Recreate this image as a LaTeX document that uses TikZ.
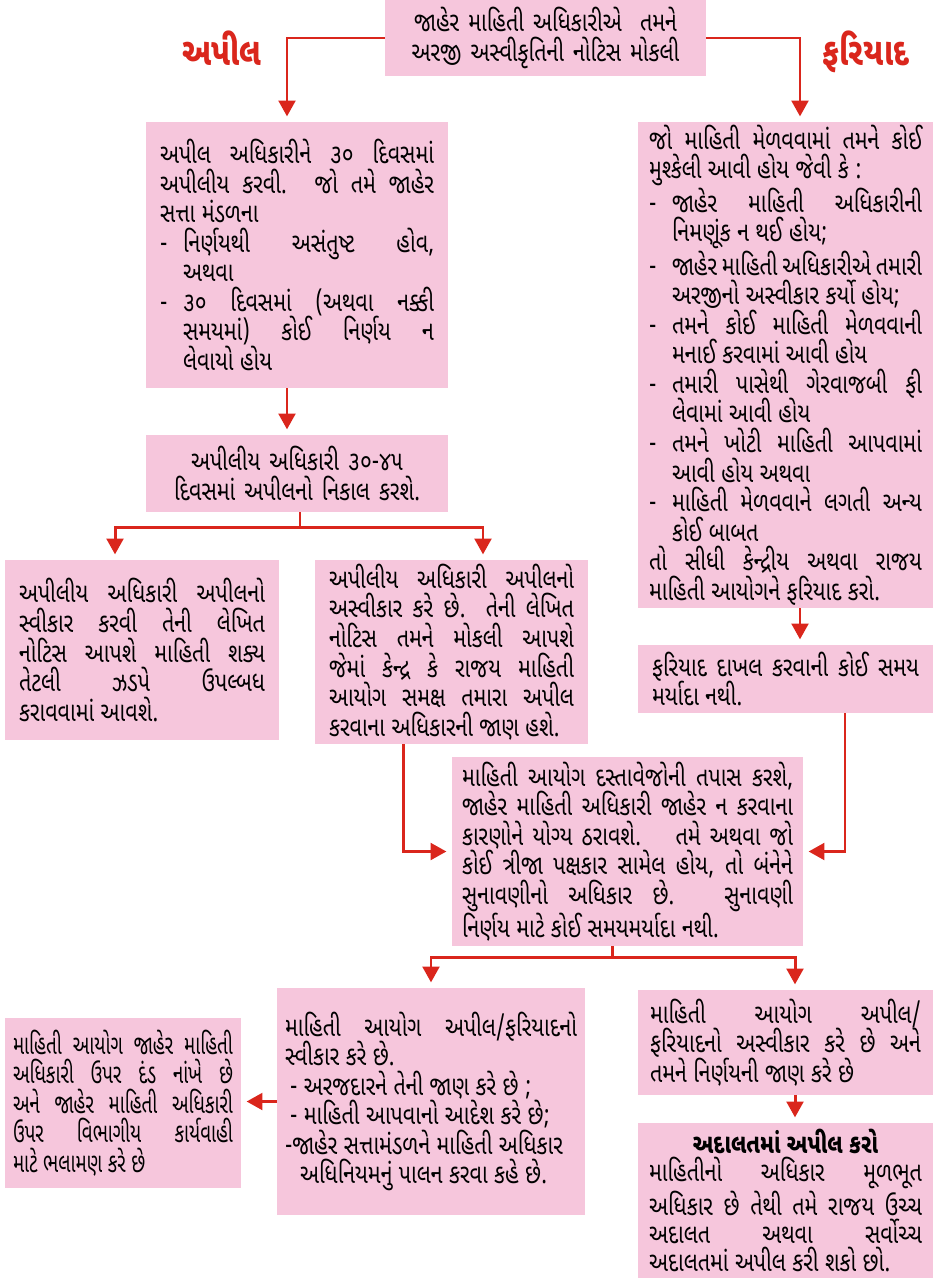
\documentclass[tikz,border=0pt]{standalone}
\usepackage{fontspec}
\setmainfont{Noto Sans Gujarati UI}[Script=Gujarati, FakeStretch=0.79]
\newfontfamily\gujnarrow{Noto Sans Gujarati UI}[Script=Gujarati, FakeStretch=0.69]
\usetikzlibrary{arrows.meta,positioning,calc}
\definecolor{boxpink}{RGB}{246,198,220}
\definecolor{arrred}{RGB}{218,38,28}
\setlength{\parindent}{0pt}
\setlength{\lineskiplimit}{-20pt}
\newcommand{\gdash}{\par\hangindent=0.46cm\hangafter=1\noindent\makebox[0.46cm][l]{-}}

\begin{document}
\begin{tikzpicture}[x=0.02cm, y=-0.02cm,
    box/.style={fill=boxpink, inner xsep=0.28cm, inner ysep=0pt, align=justify,
        font=\fontsize{15.5}{16.8}\selectfont},
    link/.style={arrred, line width=1.7pt},
    arr/.style={link, -{Triangle[width=9.5pt,length=9pt]}, shorten >=3pt},
    lbl/.style={text=arrred, font=\fontsize{22}{24}\selectfont\bfseries}]
    \useasboundingbox (0,0) rectangle (933,1278);

    % Top
    \node[box, align=center, minimum width=6.42cm, minimum height=1.52cm, text width=5.86cm] (T) at (545.5,38)
        {જાહેર માહિતી અધિકારીએ~ તમને\\ અરજી અસ્વીકૃતિની નોટિસ મોકલી};
    \node[lbl] (apil) at (222,48) {અપીલ};
    \node[lbl] (fariyad) at (866,52) {ફરિયાદ};

    % Appeal side
    \node[box, minimum width=6.04cm, minimum height=5.32cm, text width=5.48cm] (A1) at (297,255)
        {અપીલ અધિકારીને ૩૦ દિવસમાં\linebreak અપીલીય કરવી. જો તમે જાહેર\linebreak સત્તા મંડળના
        \gdash નિર્ણયથી અસંતુષ્ટ હોવ,\linebreak અથવા
        \gdash ૩૦ દિવસમાં (અથવા નક્કી\linebreak સમયમાં) કોઈ નિર્ણય ન\linebreak લેવાયો હોય\par};
    \node[box, align=center, minimum width=6.04cm, minimum height=1.54cm, text width=5.48cm] (A2) at (297,473.5)
        {અપીલીય અધિકારી ૩૦-૪૫\\ દિવસમાં અપીલનો નિકાલ કરશે.};
    \node[box, minimum width=5.48cm, minimum height=3.6cm, text width=4.92cm] (A3) at (142,650)
        {અપીલીય અધિકારી અપીલનો\linebreak સ્વીકાર કરવી તેની લેખિત\linebreak નોટિસ આપશે માહિતી શક્ય\linebreak તેટલી ઝડપે ઉપલ્બધ\linebreak કરાવવામાં આવશે.};
    \node[box, minimum width=5.46cm, minimum height=3.68cm, text width=4.9cm] (A4) at (451.5,652)
        {અપીલીય અધિકારી અપીલનો\linebreak અસ્વીકાર કરે છે. તેની લેખિત\linebreak નોટિસ તમને મોકલી આપશે\linebreak જેમાં કેન્દ્ર કે રાજય માહિતી\linebreak આયોગ સમક્ષ તમારા અપીલ\linebreak કરવાના અધિકારની જાણ હશે.};

    % Complaint side
    \node[box, minimum width=5.9cm, minimum height=9.72cm, inner xsep=0.22cm, text width=5.46cm] (F1) at (785.5,365)
        {જો માહિતી મેળવવામાં તમને કોઈ\linebreak મુશ્કેલી આવી હોય જેવી કે :
        \gdash જાહેર માહિતી અધિકારીની\linebreak નિમણૂંક ન થઈ હોય;
        \gdash જાહેર માહિતી અધિકારીએ તમારી\linebreak અરજીનો અસ્વીકાર કર્યો હોય;
        \gdash તમને કોઈ માહિતી મેળવવાની\linebreak મનાઈ કરવામાં આવી હોય
        \gdash તમારી પાસેથી ગેરવાજબી ફી\linebreak લેવામાં આવી હોય
        \gdash તમને ખોટી માહિતી આપવામાં\linebreak આવી હોય અથવા
        \gdash માહિતી મેળવવાને લગતી અન્ય\linebreak કોઈ બાબત
        \par તો સીધી કેન્દ્રીય અથવા રાજય\linebreak માહિતી આયોગને ફરિયાદ કરો.\par};
    \node[box, minimum width=5.9cm, minimum height=1.36cm, text width=5.34cm] (F2) at (785.5,679)
        {ફરિયાદ દાખલ કરવાની કોઈ સમય\linebreak મર્યાદા નથી.};

    % Commission
    \node[box, minimum width=7.02cm, minimum height=3.78cm, inner xsep=0.2cm, text width=6.62cm] (C) at (627.5,851.5)
        {માહિતી આયોગ દસ્તાવેજોની તપાસ કરશે,\linebreak જાહેર માહિતી અધિકારી જાહેર ન કરવાના\linebreak કારણોને યોગ્ય ઠરાવશે.~~ તમે અથવા જો\linebreak કોઈ ત્રીજા પક્ષકાર સામેલ હોય, તો બંનેને\linebreak સુનાવણીનો અધિકાર છે. સુનાવણી\linebreak નિર્ણય માટે કોઈ સમયમર્યાદા નથી.};

    % Decisions
    \node[box, minimum width=6.16cm, minimum height=4.54cm, inner xsep=0.16cm, text width=5.84cm] (D1) at (431,1101.5)
        {માહિતી આયોગ અપીલ/ફરિયાદનો\linebreak સ્વીકાર કરે છે.\par
        \hspace{0.1cm}- અરજદારને તેની જાણ કરે છે ;\par
        \hspace{0.1cm}- માહિતી આપવાનો આદેશ કરે છે;\par
        -જાહેર સત્તામંડળને માહિતી અધિકાર\par
        \hspace{0.3cm}અધિનિયમનું પાલન કરવા કહે છે.};
    \node[box, minimum width=5.9cm, minimum height=2.1cm, inner xsep=0.24cm, text width=5.42cm] (D2) at (785.5,1042.5)
        {માહિતી આયોગ અપીલ/\linebreak ફરિયાદનો અસ્વીકાર કરે છે અને\linebreak તમને નિર્ણયની જાણ કરે છે};
    \node[box, minimum width=4.72cm, minimum height=3.4cm, inner xsep=0.16cm, text width=4.4cm,
        font=\fontsize{15.5}{16.8}\gujnarrow] (D3) at (123,1103)
        {માહિતી આયોગ જાહેર માહિતી\linebreak અધિકારી ઉપર દંડ નાંખે છે\linebreak અને જાહેર માહિતી અધિકારી\linebreak ઉપર વિભાગીય કાર્યવાહી\linebreak માટે ભલામણ કરે છે};
    \node[box, minimum width=5.9cm, minimum height=3.1cm, inner xsep=0.22cm, text width=5.46cm,
        font=\fontsize{15.5}{16}\selectfont] (D4) at (785.5,1200.5)
        {{\centering\textbf{અદાલતમાં અપીલ કરો}\par}
        માહિતીનો અધિકાર મૂળભૂત\linebreak અધિકાર છે તેથી તમે રાજય ઉચ્ચ\linebreak અદાલત અથવા સર્વોચ્ચ\linebreak અદાલતમાં અપીલ કરી શકો છો.\par\vspace*{4pt}};

    % Arrows
    \draw[arr] (T.west) -| ([xshift=-0.2cm]A1.north);
    \draw[arr] (T.east) -| ([xshift=0.29cm]F1.north);
    \draw[arr] ([xshift=-0.2cm]A1.south) -- ([xshift=-0.2cm]A2.north);
    \draw[link] ([xshift=0.06cm]A2.south) -- ++(0,15) coordinate (j1);
    \draw[arr] (j1) -| ([xshift=-0.54cm]A3.north);
    \draw[arr] (j1) -| ([xshift=0.63cm]A4.north);
    \draw[arr] ([xshift=0.29cm]F1.south) -- ([xshift=0.29cm]F2.north);
    \draw[arr] ([xshift=-0.97cm]A4.south) |- (C.west);
    \draw[arr] ([xshift=1.19cm]F2.south) |- (C.east);
    \draw[link] ([xshift=-0.31cm]C.south) -- ++(0,11) coordinate (j2);
    \draw[arr] (j2) -| (D1.north);
    \draw[arr] (j2) -| ([xshift=0.19cm]D2.north);
    \draw[arr] (D1.west) -- (D1.west -| D3.east);
    \draw[arr] ([xshift=0.19cm]D2.south) -- ([xshift=0.19cm]D4.north);
\end{tikzpicture}
\end{document}
